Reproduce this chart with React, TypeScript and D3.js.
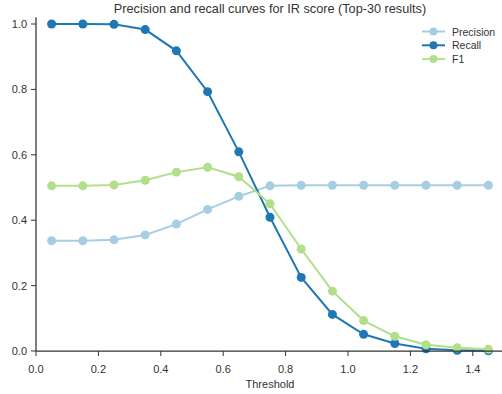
import React from "react";
import * as d3 from "d3";

const thresholds = [0.05, 0.15, 0.25, 0.35, 0.45, 0.55, 0.65, 0.75, 0.85, 0.95, 1.05, 1.15, 1.25, 1.35, 1.45];
const precision = [0.337, 0.337, 0.340, 0.355, 0.388, 0.433, 0.473, 0.505, 0.507, 0.507, 0.507, 0.507, 0.507, 0.507, 0.507];
const recall = [1.0, 1.0, 0.999, 0.983, 0.918, 0.793, 0.609, 0.409, 0.225, 0.112, 0.051, 0.023, 0.007, 0.002, 0.0005];
const f1 = [0.505, 0.505, 0.508, 0.522, 0.547, 0.562, 0.533, 0.45, 0.312, 0.183, 0.093, 0.045, 0.019, 0.010, 0.005];
const xTicks = [0.0, 0.2, 0.4, 0.6, 0.8, 1.0, 1.2, 1.4];
const yTicks = [0.0, 0.2, 0.4, 0.6, 0.8, 1.0];
const seriesNames = ["Precision", "Recall", "F1"];
const seriesColors = ["#a6cee3", "#1f78b4", "#b2df8a"];
const title = "Precision and recall curves for IR score (Top-30 results)";
const xLabel = "Threshold";

export default function App() {
  const W = 502, H = 394;
  const x = d3.scaleLinear().domain([0, 1.5]).range([36, 504]);
  const y = d3.scaleLinear().domain([0, 1.0]).range([351, 24]);
  const yTop = y(1.021);
  const font = "'Liberation Sans', Arial, sans-serif";
  const series = [precision, recall, f1];
  const line = d3.line<[number, number]>().x(d => x(d[0])).y(d => y(d[1]));
  const axisColor = "#333";
  const textColor = "#333";

  return (
    <svg width={W} height={H} style={{ position: "absolute", left: 0, top: 0 }} fontFamily={font}>
      <rect width={W} height={H} fill="#fff" />
      <text x={270} y={12.5} textAnchor="middle" fontSize={12.7} fill={textColor}>{title}</text>
      {series.map((vals, i) => {
        const pts = thresholds.map((t, j) => [t, vals[j]] as [number, number]);
        return (
          <g key={i}>
            <path d={line(pts) || ""} fill="none" stroke={seriesColors[i]} strokeWidth={2} />
            {pts.map((p, j) => (
              <circle key={j} cx={x(p[0])} cy={y(p[1])} r={4.5} fill={seriesColors[i]} />
            ))}
          </g>
        );
      })}
      <line x1={36} x2={36} y1={yTop} y2={351} stroke={axisColor} strokeWidth={1.25} />
      <line x1={36} x2={504} y1={351} y2={351} stroke={axisColor} strokeWidth={1.25} />
      {xTicks.map((t, i) => (
        <g key={i}>
          <line x1={x(t)} x2={x(t)} y1={351} y2={356} stroke={axisColor} strokeWidth={1} />
          <text x={x(t)} y={373} textAnchor="middle" fontSize={11} fill={textColor}>{t.toFixed(1)}</text>
        </g>
      ))}
      {yTicks.map((t, i) => (
        <g key={i}>
          <line x1={31} x2={36} y1={y(t)} y2={y(t)} stroke={axisColor} strokeWidth={1} />
          <text x={27} y={y(t) + 4} textAnchor="end" fontSize={11} fill={textColor}>{t.toFixed(1)}</text>
        </g>
      ))}
      <text x={270} y={388} textAnchor="middle" fontSize={11} fill={textColor}>{xLabel}</text>
      {seriesNames.map((n, i) => {
        const ly = 31.5 + i * 13.8;
        return (
          <g key={n}>
            <line x1={422} x2={445} y1={ly} y2={ly} stroke={seriesColors[i]} strokeWidth={2} />
            <circle cx={433.5} cy={ly} r={4} fill={seriesColors[i]} />
            <text x={452} y={ly + 4} fontSize={10.5} fill={textColor}>{n}</text>
          </g>
        );
      })}
    </svg>
  );
}
